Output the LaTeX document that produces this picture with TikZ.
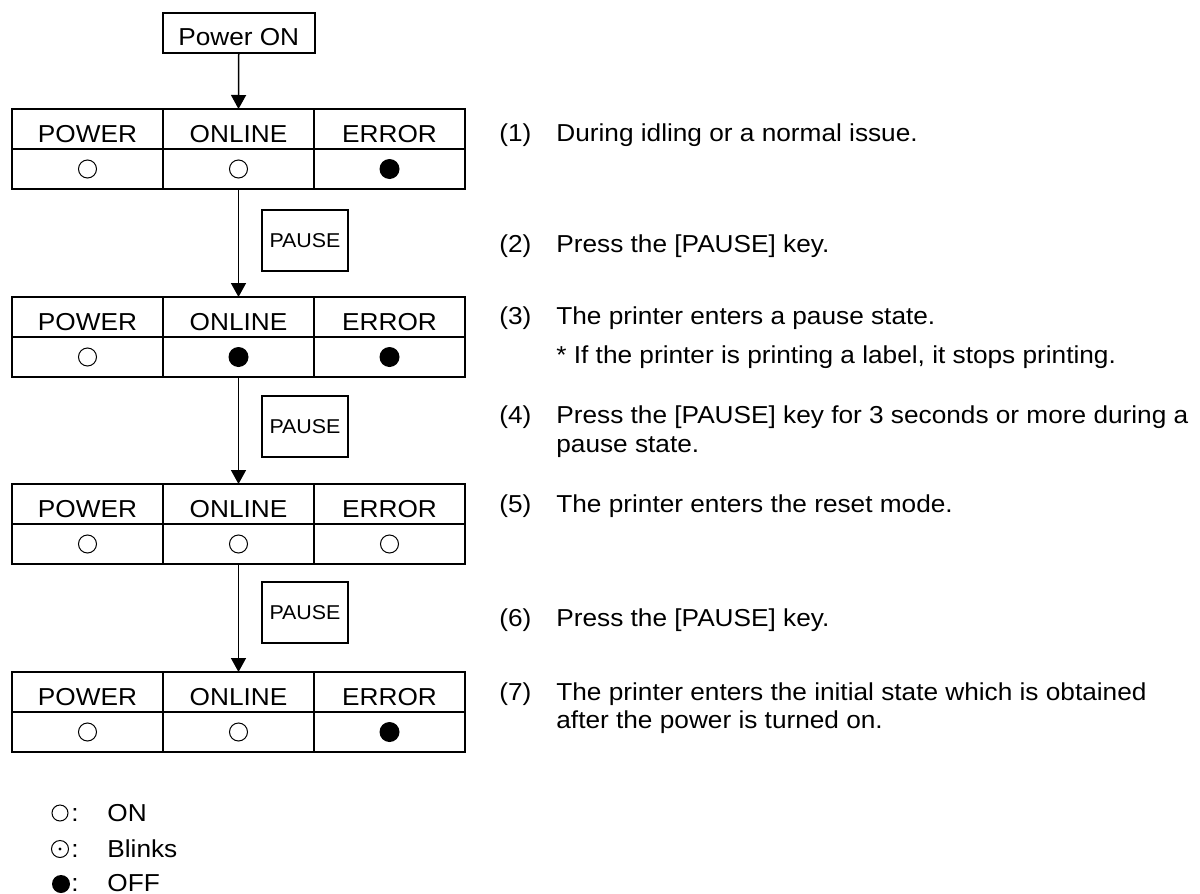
\documentclass[tikz,border=0pt]{standalone}
\usepackage{fontspec}
\setmainfont{Liberation Sans}[FakeStretch=1.07]
\usetikzlibrary{arrows.meta}
\begin{document}
\begin{tikzpicture}[x=0.5pt,y=-0.5pt,
  every node/.style={font=\fontsize{12.25pt}{14pt}\selectfont},
  hcell/.style={draw, line width=1pt, minimum width=75.5pt, minimum height=20pt,
    inner sep=0pt, outer sep=0pt, anchor=north west, text height=16.5pt, text depth=3.5pt},
  scell/.style={draw, line width=1pt, minimum width=75.5pt, minimum height=20pt,
    inner sep=0pt, outer sep=0pt, anchor=north west},
  onled/.style={circle, draw, line width=0.5pt, minimum size=9pt, inner sep=0pt},
  offled/.style={circle, fill=black, minimum size=10pt, inner sep=0pt},
  keybox/.style={draw, line width=0.8pt, minimum width=43pt, minimum height=30.5pt,
    inner sep=0pt, font=\fontsize{10pt}{12pt}\selectfont},
  flow/.style={line width=0.75pt, -{Triangle[width=7.5pt,length=7pt]}},
  txt/.style={anchor=base west, inner sep=0pt},
]
\useasboundingbox (0,0) rectangle (1200,894);

% Power ON
\node[draw, line width=1pt, minimum width=76pt, minimum height=20pt, inner sep=0pt,
  text height=16.5pt, text depth=3.5pt] (pwr) at (238.75,33) {Power ON};

% Tables
\foreach \t/\y in {1/109,2/297,3/484,4/672}{
  \node[hcell] (t\t h1) at (12,\y) {POWER};
  \node[hcell] (t\t h2) at (163,\y) {ONLINE};
  \node[hcell] (t\t h3) at (314,\y) {ERROR};
  \node[scell] (t\t s1) at (12,\y+40) {};
  \node[scell] (t\t s2) at (163,\y+40) {};
  \node[scell] (t\t s3) at (314,\y+40) {};
}
% LED states
\node[onled] (l11) at (t1s1.center) {};
\node[onled] (l12) at (t1s2.center) {};
\node[offled] (l13) at (t1s3.center) {};
\node[onled] (l21) at (t2s1.center) {};
\node[offled] (l22) at (t2s2.center) {};
\node[offled] (l23) at (t2s3.center) {};
\node[onled] (l31) at (t3s1.center) {};
\node[onled] (l32) at (t3s2.center) {};
\node[onled] (l33) at (t3s3.center) {};
\node[onled] (l41) at (t4s1.center) {};
\node[onled] (l42) at (t4s2.center) {};
\node[offled] (l43) at (t4s3.center) {};

% Arrows
\draw[flow] (pwr.south) -- (t1h2.north);
\draw[flow] (t1s2.south) -- (t2h2.north);
\draw[flow] (t2s2.south) -- (t3h2.north);
\draw[flow] (t3s2.south) -- (t4h2.north);

% PAUSE keys
\node[keybox] (k1) at (305,240.5) {PAUSE};
\node[keybox] (k2) at (305,426.5) {PAUSE};
\node[keybox] (k3) at (305,612.5) {PAUSE};

% Right-hand texts
\node[txt] (n1) at (499,141) {(1)};
\node[txt] (d1) at (556,141) {During idling or a normal issue.};
\node[txt] (n2) at (499,252) {(2)};
\node[txt] (d2) at (556,252) {Press the [PAUSE] key.};
\node[txt] (n3) at (499,324) {(3)};
\node[txt] (d3) at (556,324) {The printer enters a pause state.};
\node[txt] (d3b) at (556,363) {* If the printer is printing a label, it stops printing.};
\node[txt] (n4) at (499,423) {(4)};
\node[txt] (d4) at (556,423) {Press the [PAUSE] key for 3 seconds or more during a};
\node[txt] (d4b) at (556,452) {pause state.};
\node[txt] (n5) at (499,512) {(5)};
\node[txt] (d5) at (556,512) {The printer enters the reset mode.};
\node[txt] (n6) at (499,626) {(6)};
\node[txt] (d6) at (556,626) {Press the [PAUSE] key.};
\node[txt] (n7) at (499,700) {(7)};
\node[txt] (d7) at (556,700) {The printer enters the initial state which is obtained};
\node[txt] (d7b) at (556,728) {after the power is turned on.};

% Legend
\node[circle, draw, line width=0.5pt, minimum size=8pt, inner sep=0pt] (g1) at (60,813) {};
\node[txt] (c1) at (71,821) {:};
\node[txt] (e1) at (107,821) {ON};
\node[circle, draw, line width=0.5pt, minimum size=8.5pt, inner sep=0pt] (g2) at (60,849) {};
\fill (g2.center) circle (1.6);
\node[txt] (c2) at (71,857) {:};
\node[txt] (e2) at (107,857) {Blinks};
\node[circle, fill=black, minimum size=9pt, inner sep=0pt] (g3) at (61,884) {};
\node[txt, text depth=0pt] (c3) at (71,891) {:};
\node[txt, text depth=0pt] (e3) at (107,891) {OFF};
\end{tikzpicture}
\end{document}
